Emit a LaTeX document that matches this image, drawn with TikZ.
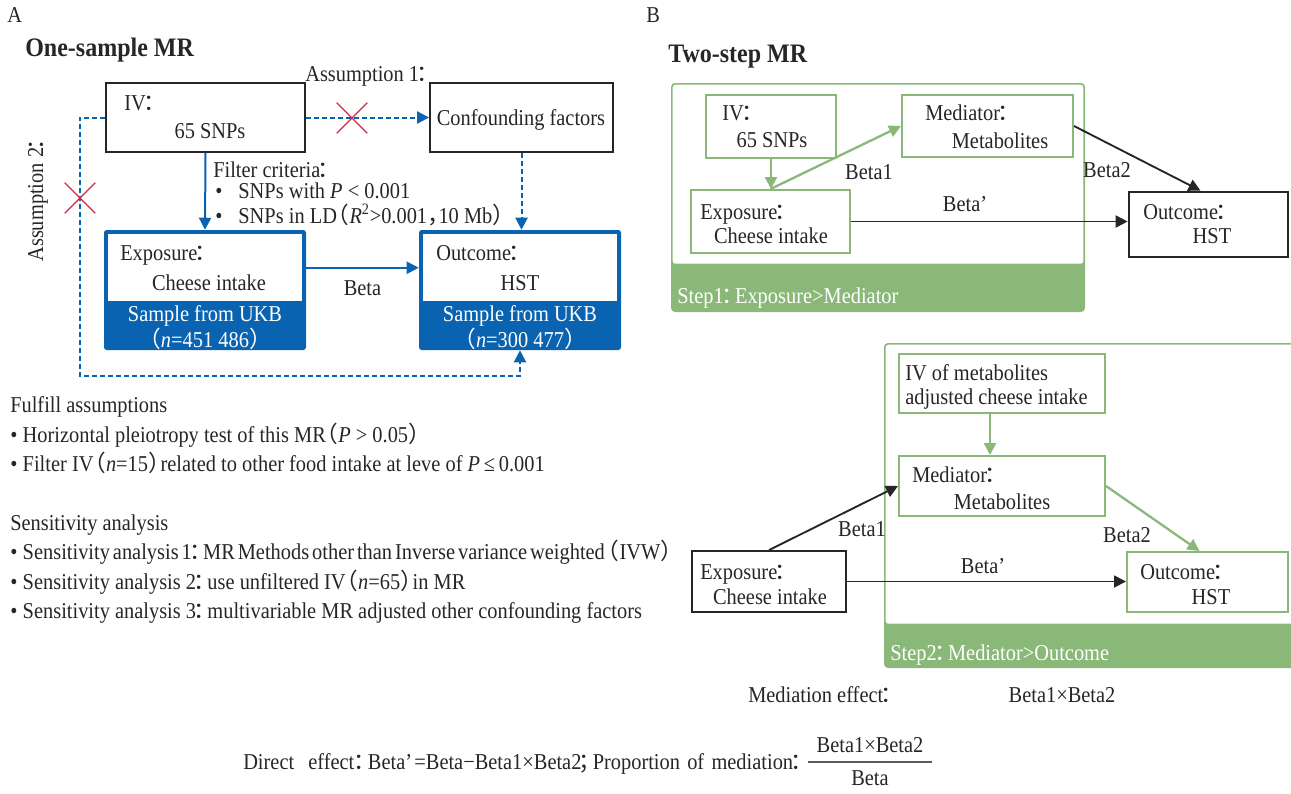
\documentclass[tikz,border=0pt]{standalone}
\usepackage{fontspec}
\setmainfont{Liberation Serif}[FakeStretch=0.9]
\newfontfamily\cjkfont{Noto Sans CJK SC}
\usetikzlibrary{arrows.meta,positioning,calc,fit,shapes.misc}
\definecolor{mrblue}{HTML}{0A63B0}
\definecolor{mrgreen}{HTML}{8AB878}
\definecolor{crossred}{HTML}{D22A45}
\definecolor{inkgray}{HTML}{262626}
\newcommand{\fc}{\hspace{-0.12em}\makebox[0.62em][l]{\cjkfont ：}}
\newcommand{\fsemi}{\hspace{-0.12em}\makebox[0.62em][l]{\cjkfont ；}}
\newcommand{\fcomma}{\makebox[0.5em][l]{\cjkfont ，}}
\newcommand{\lp}{\makebox[0.55em][r]{\cjkfont （}}
\newcommand{\rp}{\makebox[0.55em][l]{\cjkfont ）}}

\begin{document}
\begin{tikzpicture}[
  x=0.75pt, y=-0.75pt,
  every node/.style={font=\fontsize{17}{20}\selectfont, inner sep=0pt, text=inkgray},
  lbl/.style={anchor=base west},
  lblc/.style={anchor=base},
  title/.style={anchor=base west, font=\bfseries\fontsize{20}{24}\selectfont},
  plainbox/.style={rectangle, draw=inkgray, line width=1.4pt},
  greenbox/.style={rectangle, draw=mrgreen, line width=1.5pt},
  bluebox/.style={rectangle, fill=mrblue, rounded corners=2pt},
  stepframe/.style={rectangle, fill=mrgreen, rounded corners=3pt},
  oncolor/.style={text=white},
  redx/.style={cross out, draw=crossred, line width=1pt, minimum size=22pt},
  bluearrow/.style={draw=mrblue, line width=1.5pt, -{Triangle[length=9pt,width=9pt]}},
  bluedash/.style={bluearrow, dash pattern=on 3.5pt off 2.5pt},
  greenarrow/.style={draw=mrgreen, line width=1.7pt, -{Triangle[length=9pt,width=9pt]}},
  blackarrow/.style={draw=inkgray, line width=1.4pt, -{Triangle[length=9pt,width=9pt]}},
]
\useasboundingbox (0,0) rectangle (1291,793);
\clip (0,0) rectangle (1291,793);

% Panel A: one-sample MR
\node[lbl] (pa) at (7,22) {A};
\node[title] (ta) at (25,56) {One-sample MR};

\node[plainbox, fit={(106,83) (305,152)}] (iv) {};
\node[lbl] (ivt) at (124,110) {IV\fc};
\node[lblc] (ivn) at (210,138) {65 SNPs};
\node[plainbox, fit={(430,83) (613,152)}] (conf) {};
\node[lblc] (conft) at (521,125) {Confounding factors};
\node[lbl] (as1) at (305,81) {Assumption 1\fc};

\node[lbl] (flt) at (213,177) {Filter criteria\fc};
\node[lbl] (flt1) at (215,198) {•\hspace{12pt}SNPs with \textit{P} < 0.001};
\node[lbl] (flt2) at (215,223) {•\hspace{12pt}SNPs in LD\lp\textit{R}\smash{\textsuperscript{2}}>0.001\fcomma 10 Mb\rp};

% exposure and outcome with sample bands
\node[bluebox, fit={(104,230) (306,350)}] (expo) {};
\fill[white] ($(expo.north west)+(4,4)$) rectangle ($(expo.north east)+(-4,71)$);
\node[lbl] (expot) at (120,260) {Exposure\fc};
\node[lblc] (expon) at (209,290) {Cheese intake};
\node[lblc, oncolor] (expos) at (205,321) {Sample from UKB};
\node[lblc, oncolor] (expoc) at (205,347) {\lp\textit{n}=451 486\rp};

\node[bluebox, fit={(419,230) (621,350)}] (outc) {};
\fill[white] ($(outc.north west)+(4,4)$) rectangle ($(outc.north east)+(-4,71)$);
\node[lbl] (outct) at (436,260) {Outcome\fc};
\node[lblc] (outcn) at (520,290) {HST};
\node[lblc, oncolor] (outcs) at (520,321) {Sample from UKB};
\node[lblc, oncolor] (outcc) at (520,347) {\lp\textit{n}=300 477\rp};

% arrows of panel A
\draw[bluearrow] (iv.south) -- (expo.north);
\draw[bluedash] (iv.east) -- (conf.west);
\draw[bluedash] (conf.south) -- (conf.south |- outc.north);
\coordinate (loopc) at (80,376);
\draw[bluedash] (iv.west) -| (loopc) -| (outc.south);
\draw[bluearrow] ($(expo.north east)+(0,38)$) -- ($(outc.north west)+(0,38)$)
  node[midway, below=9pt] (beta) {Beta};
\node[redx] (x1) at (352,118) {};
\node[redx] (x2) at (80,198) {};
\node[rotate=90] (as2) at (38,199) {Assumption 2\fc};

% assumptions and sensitivity analyses
\node[lbl] (fa) at (10,412) {Fulfill assumptions};
\node[lbl] (fa1) at (10,442) {•\hspace{4pt}Horizontal pleiotropy test of this MR\lp\textit{P} > 0.05\rp};
\node[lbl] (fa2) at (10,471) {•\hspace{4pt}Filter IV\lp\textit{n}=15\rp related to other food intake at leve of \textit{P}\,≤\,0.001};
\node[lbl] (sa) at (10,530) {Sensitivity analysis};
\node[lbl] (sa1) at (10,559) {\spaceskip=0.13em •\hspace{4pt}Sensitivity analysis 1\fc MR Methods other than Inverse variance weighted\hspace{0.1em}\lp IVW\rp};
\node[lbl] (sa2) at (10,589) {•\hspace{4pt}Sensitivity analysis 2\fc use unfiltered IV\lp\textit{n}=65\rp in MR};
\node[lbl] (sa3) at (10,618) {•\hspace{4pt}Sensitivity analysis 3\fc multivariable MR adjusted other confounding factors};

% Panel B: two-step MR
\node[lbl] (pb) at (646,22) {B};
\node[title] (tb) at (668,62) {Two-step MR};

% step 1
\node[stepframe, fit={(671,83) (1085,312)}] (s1) {};
\fill[white, rounded corners=2pt] ($(s1.north west)+(2,2)$) rectangle ($(s1.north east)+(-2,181)$);
\node[lbl, oncolor] (s1t) at (677,303) {Step1\fc Exposure>Mediator};

\node[greenbox, fit={(706,95) (836,158)}] (ivb) {};
\node[lbl] (ivbt) at (722,120) {IV\fc};
\node[lblc] (ivbn) at (772,147) {65 SNPs};
\node[greenbox, fit={(902,95) (1073,157)}] (medb) {};
\node[lbl] (medbt) at (925,120) {Mediator\fc};
\node[lblc] (medbn) at (1000,148) {Metabolites};
\node[greenbox, fit={(691,190) (850,253)}] (expb) {};
\node[lbl] (expbt) at (700,219) {Exposure\fc};
\node[lblc] (expbn) at (771,243) {Cheese intake};
\node[plainbox, line width=2pt, fit={(1129,192) (1288,257)}] (outb) {};
\node[lbl] (outbt) at (1143,219) {Outcome\fc};
\node[lblc] (outbn) at (1212,243) {HST};

\draw[greenarrow] (ivb.south) -- (ivb.south |- expb.north);
\draw[greenarrow] (expb.north) -- (medb.west);
\draw[blackarrow] (medb.east) -- ($(outb.north)+(-8,0)$);
\draw[blackarrow] (expb.east) -- (outb.west |- expb.east);
\node[lblc] (b1a) at (869,179) {Beta1};
\node[lblc] (b2a) at (1107,177) {Beta2};
\node[lblc] (bpa) at (965,211) {Beta’};

% step 2
\node[stepframe, fit={(884,343) (1300,668)}] (s2) {};
\fill[white, rounded corners=2pt] ($(s2.north west)+(2,2)$) rectangle ($(s2.north east)+(-2,281)$);
\node[lbl, oncolor] (s2t) at (890,660) {Step2\fc Mediator>Outcome};

\node[greenbox, fit={(899,354) (1105,413)}] (ivm) {};
\node[lbl] (ivmt) at (905,380) {IV of metabolites};
\node[lbl] (ivmu) at (905,404) {adjusted cheese intake};
\node[greenbox, fit={(899,456) (1105,516)}] (medc) {};
\node[lbl] (medct) at (912,482) {Mediator\fc};
\node[lblc] (medcn) at (1002,509) {Metabolites};
\node[plainbox, fit={(692,551) (846,612)}] (expc) {};
\node[lbl] (expct) at (700,579) {Exposure\fc};
\node[lblc] (expcn) at (770,604) {Cheese intake};
\node[greenbox, fit={(1127,552) (1288,612)}] (outd) {};
\node[lbl] (outdt) at (1140,579) {Outcome\fc};
\node[lblc] (outdn) at (1211,604) {HST};

\draw[greenarrow] ($(ivm.south)+(-12,0)$) -- ($(medc.north)+(-12,0)$);
\draw[blackarrow] (expc.north) -- (medc.west);
\draw[greenarrow] (medc.east) -- ($(outd.north)+(-8,0)$);
\draw[blackarrow] (expc.east) -- (outd.west |- expc.east);
\node[lblc] (b1b) at (862,536) {Beta1};
\node[lblc] (b2b) at (1127,542) {Beta2};
\node[lblc] (bpb) at (983,573) {Beta’};

% effects
\node[lbl] (mede) at (748,702) {Mediation effect\fc};
\node[lblc] (medv) at (1062,702) {Beta1×Beta2};
\node[lbl] (dire) at (243,769) {\spaceskip=0.32em Direct\hspace{0.3em} effect\hspace{0.1em}\fc Beta’\hspace{0.1em}=Beta−Beta1×Beta2\fsemi Proportion of mediation\fc};
\node[lblc] (frnum) at (870,752) {Beta1×Beta2};
\node[lblc] (frden) at (870,785) {Beta};
\draw[inkgray!75, line width=1.1pt] (808,762) -- (932,762);

\end{tikzpicture}
\end{document}
